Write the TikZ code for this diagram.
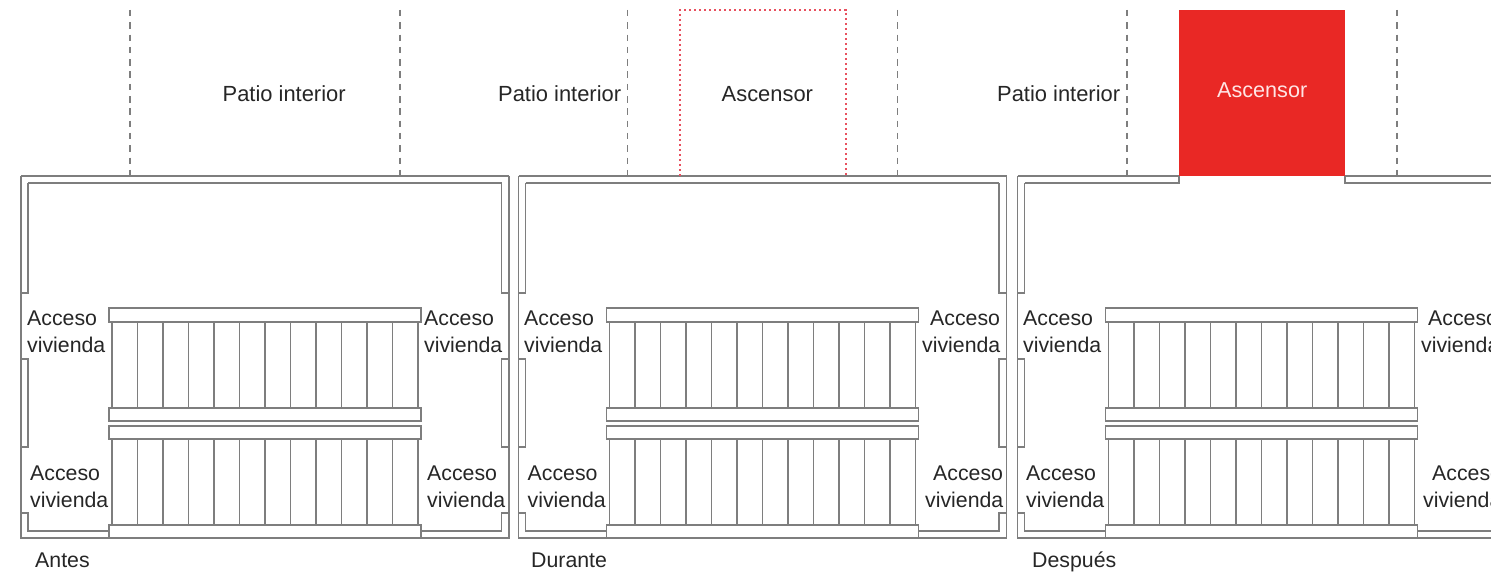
\documentclass[tikz,border=0pt]{standalone}
\usepackage{fontspec}
\setmainfont{Liberation Sans}
\definecolor{wall}{HTML}{7E7E7E}
\definecolor{ink}{HTML}{262626}
\definecolor{liftred}{HTML}{E92825}
\definecolor{liftdot}{HTML}{E8505E}
\tikzset{
  wallline/.style={draw=wall,line width=1.8pt,line join=miter},
  gridline/.style={wallline,dash pattern=on 6.5pt off 5.8pt},
  label/.style={anchor=base west,inner sep=0pt,text=ink,font=\fontsize{21.3}{24}\selectfont},
  toplabel/.style={label,font=\fontsize{21.9}{24}\selectfont},
  liftplan/.style={draw=liftdot,line width=2pt,dash pattern=on 2.4pt off 2.6pt},
}
\newcommand{\stairsandwalls}{%
  % outer and inner wall, sides
  \draw[wallline] (109,538)--(21,538)--(21,176);
  \draw[wallline] (509,176)--(509,538)--(421,538);
  \draw[wallline] (21,293)--(28,293)--(28,183);
  \draw[wallline] (509,293)--(501.5,293)--(501.5,183);
  \draw[wallline] (21,359)--(28,359)--(28,447)--(21,447);
  \draw[wallline] (509,359)--(501.5,359)--(501.5,447)--(509,447);
  \draw[wallline] (21,513)--(28,513)--(28,531)--(109,531);
  \draw[wallline] (509,513)--(501.5,513)--(501.5,531)--(421,531);
  % treads
  \foreach \i in {0,...,12}{
    \draw[wallline] ({112+25.5*\i},322)--({112+25.5*\i},408);
    \draw[wallline] ({112+25.5*\i},439)--({112+25.5*\i},525);
  }
  % landings
  \foreach \a/\b in {308/322,408/421,426/439,525/538}{
    \draw[wallline,fill=white] (109,\a) rectangle (421,\b);
  }
}
\begin{document}
\begin{tikzpicture}[x=1pt,y=-1pt]
\useasboundingbox (0,0) rectangle (1491,577);
\clip (0,0) rectangle (1491,577);
\fill[white] (0,0) rectangle (1491,577);
% grid lines of the courtyard
\foreach \x in {130,400,627.5,897.5,1127,1397}{
  \draw[gridline] (\x,10)--(\x,176);
}
% panel 1
\begin{scope}
  \stairsandwalls
  \draw[wallline] (21,176)--(509,176);
  \draw[wallline] (28,183)--(501.5,183);
\end{scope}
% panel 2
\begin{scope}[xshift=497.5pt]
  \stairsandwalls
  \draw[wallline] (21,176)--(509,176);
  \draw[wallline] (28,183)--(501.5,183);
\end{scope}
% panel 3
\begin{scope}[xshift=996.5pt]
  \stairsandwalls
  \draw[wallline] (21,176)--(182.5,176)--(182.5,183)--(28,183);
  \draw[wallline] (509,176)--(348.5,176)--(348.5,183)--(501.5,183);
\end{scope}
% lift
\draw[liftplan] (680,176)--(680,10)--(846,10)--(846,176);
\node[fill=liftred,minimum width=166pt,minimum height=166pt,inner sep=0pt,anchor=north west] (liftsolid) at (1179,10) {};
% labels
\node[toplabel] (p1) at (222.5,102) {Patio interior};
\node[toplabel] (p2) at (498,102) {Patio interior};
\node[toplabel] (p3) at (997,102) {Patio interior};
\node[toplabel] (a2) at (721.5,102) {Ascensor};
\node[label,text=white!90!red,font=\fontsize{21.6}{24}\selectfont] (a3) at (1217,98) {Ascensor};
\node[label] (t1) at (35,567) {Antes};
\node[label] (t2) at (531,567) {Durante};
\node[label] (t3) at (1032,567) {Después};
% access labels
\foreach \n/\xa/\xb/\ya/\yb in {
  a/27/27/326/352.5, b/30/30/480/507,
  c/424/424/326/352.5, d/427/427/480/507,
  e/524/524/326/352.5, f/527.5/527.5/480/507,
  g/930/922/326/352.5, h/933/925/480/507,
  i/1023/1023/326/352.5, j/1026/1026/480/507,
  k/1428/1421/326/352.5, l/1432/1423/480/507}{
  \node[label] (acc\n) at (\xa,\ya) {Acceso};
  \node[label] (viv\n) at (\xb,\yb) {vivienda};
}
\end{tikzpicture}
\end{document}
